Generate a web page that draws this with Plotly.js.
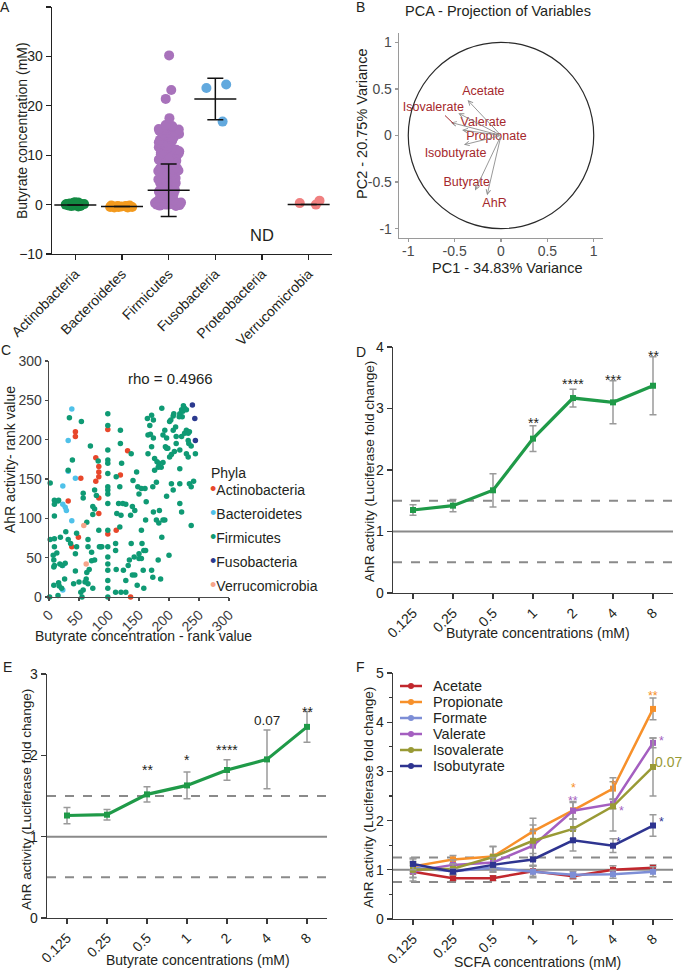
<!DOCTYPE html>
<html><head><meta charset="utf-8">
<script src="https://cdn.plot.ly/plotly-3.0.1.min.js"></script>
<style>html,body{margin:0;padding:0;background:#fff}</style>
</head><body><div id="chart" style="width:685px;height:973px"></div>
<script>
// ---------------- Panel A data ----------------
const phylaA = ['Actinobacteria','Bacteroidetes','Firmicutes','Fusobacteria','Proteobacteria','Verrucomicrobia'];
const butyrateActino = [0.1,-0.1,0.2,0.0,0.3,-0.2,0.1,0.0,-0.1,0.2,0.4,0.0,-0.3,0.1,0.2,-0.1,0.0,0.3,0.1,-0.2,0.0,0.2,0.1,-0.1,0.0,-0.4,0.5,-0.3];
const butyrateBactero = [-0.4,-0.5,-0.3,-0.4,-0.6,-0.5,-0.2,-0.4,-0.3,-0.5,-0.4,-0.35,-0.6,-0.2];
const butyrateFirmi = [30.2,23.2,21.4,17.5,
16.1,15.9,15.7,15.5,15.3,15.1,14.9,14.7,14.4,14.1,13.9,13.6,13.4,13.1,12.9,12.6,12.4,12.1,11.9,11.6,11.4,11.1,10.9,10.6,10.4,10.1,
9.9,9.6,9.4,9.1,8.9,8.6,8.4,8.1,7.9,7.6,7.4,7.1,6.9,6.6,6.4,6.1,5.9,5.6,5.4,5.1,4.9,4.6,4.4,4.1,3.9,3.6,3.4,3.1,2.9,2.6,2.4,2.1,1.9,1.6,1.4,1.1,0.9,0.6,0.4,0.1,
15.8,15.2,14.5,13.7,12.2,11.3,10.2,9.2,8.3,7.2,6.2,5.3,4.3,3.2,2.2,1.2,0.3,
14.3,12.7,10.8,8.8,6.8,4.8,2.8,0.8,
0.0,0.0,0.1,0.2,0.2,0.3,0.5,0.0,-0.1,-0.2,0.1,0.4,0.6,0.0,-0.3];
const butyrateFuso = [24.3,23.6,16.8];
const butyrateVerruco = [0.0,0.8,0.3];
const meanA = [-0.1,-0.4,2.9,21.4,null,0.0];
const sdA = [0,0,5.3,4.2,null,0];

// ---------------- Panel B data ----------------
const pcaVars = ['Acetate','Isovalerate','Valerate','Propionate','Isobutyrate','Butyrate','AhR'];
const pc1 = [-0.36,-0.54,-0.46,-0.42,-0.40,-0.28,-0.15];
const pc2 = [0.38,0.14,0.24,0.06,-0.10,-0.59,-0.64];
const labelPC1 = [-0.19,-0.73,-0.19,-0.05,-0.49,-0.37,-0.07];
const labelPC2 = [0.47,0.30,0.14,-0.02,-0.20,-0.51,-0.73];

// ---------------- Panel C data ----------------
const actinoRankX = [44,44,32,53,98,131,78,83,83,83,78,83,83,49,38,119,112,136,98];
const actinoRankY = [210,204,122,151,213,186,177,166,159,153,147,126,106,76,64,155,85,0,80];
const bacteroRankX = [38,32,32,44,23,23,27,29,38,23,23];
const bacteroRankY = [239,199,160,151,141,118,114,110,97,40,9];
const fusoRankX = [239,243,244];
const fusoRankY = [244,227,199];
const verrucoRankX = [58,62];
const verrucoRankY = [91,42];
const firmiRankX = [1,2,2,9,9,15,9,9,9,8,8,9,13,19,18,22,8,17,21,15,26,28,32,36,46,32,34,39,54,44,44,50,53,55,57,57,63,65,65,71,65,62,63,67,69,73,76,73,76,79,76,71,73,84,86,88,83,82,16,7,27,46,16,41,60,57,
98,98,98,98,98,98,98,98,98,98,98,98,98,98,98,98,98,98,
119,119,121,118,112,116,123,113,120,128,118,111,111,112,111,120,128,124,128,132,134,136,137,140,139,143,139,143,137,142,147,146,148,150,150,154,150,154,155,158,161,157,158,162,161,160,154,
164,171,174,168,165,169,165,171,174,176,176,180,183,187,190,182,179,173,174,179,184,188,183,190,193,182,173,171,186,188,193,190,196,194,196,198,201,203,207,208,207,211,212,212,201,204,209,196,207,204,200,218,221,223,226,224,229,222,217,221,226,229,232,234,232,233,218,229,232,218,221,218,218,234,237,241,237,244,237];
const firmiRankY = [0,73,145,123,118,122,103,74,64,47,38,40,56,76,42,40,15,14,11,2,23,83,73,68,81,161,228,174,223,55,33,19,6,0,132,126,95,73,64,57,17,23,31,35,192,105,112,115,136,129,47,46,11,64,64,64,85,173,123,53,43,64,18,17,19,9,
233,218,187,174,170,157,140,136,131,119,85,64,51,42,34,21,11,0,
212,195,170,140,153,119,119,106,104,118,89,68,59,35,6,6,6,34,21,40,47,104,182,148,115,110,28,28,68,51,15,159,140,131,55,49,49,85,68,59,59,34,11,121,98,138,138,
227,231,225,218,206,207,182,191,202,176,161,172,170,165,171,165,146,140,108,98,110,76,94,98,98,47,25,34,23,240,212,206,202,191,189,189,223,225,230,233,212,216,204,195,178,181,185,128,136,144,53,233,238,236,240,243,238,229,229,204,208,212,208,210,199,195,187,182,178,163,108,144,119,144,140,147,91,182,192];
const phylaC = ['Actinobacteria','Bacteroidetes','Firmicutes','Fusobacteria','Verrucomicrobia'];

// ---------------- Panel D / E data ----------------
const concLabels = ['0.125','0.25','0.5','1','2','4','8'];
const ahrD = [1.35,1.42,1.67,2.51,3.17,3.10,3.37];
const sdD = [0.085,0.10,0.27,0.21,0.145,0.35,0.47];
const sigD = ['','','','**','****','***','**'];
const sigDy = [null,null,null,2.82,3.44,3.52,3.91];
const ahrE = [1.26,1.27,1.52,1.63,1.82,1.95,2.35];
const sdE = [0.10,0.065,0.095,0.165,0.125,0.36,0.19];
const sigE = ['','','**','*','****','0.07','**'];
const sigEy = [null,null,1.86,1.98,2.10,2.43,2.57];
const refLinesDE = [0.5,1,1.5];

// ---------------- Panel F data ----------------
const scfaNames = ['Acetate','Propionate','Formate','Valerate','Isovalerate','Isobutyrate'];
const acetateF = [0.96,0.83,0.83,0.97,0.87,1.00,1.04];
const propionateF = [1.07,1.21,1.27,1.78,2.21,2.65,4.27];
const formateF = [1.04,0.97,1.04,0.96,0.90,0.91,0.96];
const valerateF = [0.97,1.10,1.15,1.49,2.20,2.34,3.58];
const isovalerateF = [1.00,1.02,1.26,1.59,1.83,2.29,3.09];
const isobutyrateF = [1.12,0.96,1.10,1.21,1.60,1.49,1.90];
const acetateSd = [0.12,0.05,0.05,0.10,0.05,0.08,0.06];
const propionateSd = [0.15,0.08,0.20,0.27,0.18,0.22,0.22];
const formateSd = [0.08,0.06,0.08,0.12,0.06,0.08,0.10];
const valerateSd = [0.20,0.10,0.15,0.30,0.17,0.10,0.10];
const isovalerateSd = [0.15,0.10,0.22,0.32,0.20,0.50,0.59];
const isobutyrateSd = [0.12,0.06,0.15,0.12,0.22,0.14,0.22];
const sigFText = ['**','*','0.07','*','*','*','*','*','**'];
const sigFSeries = ['Propionate','Valerate','Isovalerate','Isobutyrate','Isobutyrate','Valerate','Propionate','Propionate','Valerate'];
const sigFx = [6.0,6.2,6.5,6.2,5.13,5.2,5.0,4.0,4.0];
const sigFy = [4.59,3.68,3.20,2.03,1.63,2.26,2.78,2.72,2.45];
const refLinesF = [0.75,1,1.25];

// ---------------- styling ----------------
const FONT = 'Liberation Sans, Arial, Helvetica, sans-serif';
const TXT = '#231f20';
const W = 685, H = 973;
const px = v => v / W, py = v => 1 - v / H;
const colA = {Actinobacteria:'#138a43', Bacteroidetes:'#f39a1e', Firmicutes:'#a872bb', Fusobacteria:'#62a9de', Verrucomicrobia:'#f08080'};
const colC = {Actinobacteria:'#e8472b', Bacteroidetes:'#4fc1e9', Firmicutes:'#0f9a74', Fusobacteria:'#2b3a8f', Verrucomicrobia:'#f7a58a'};
const colF = {Acetate:'#c1272d', Propionate:'#f7902a', Formate:'#7d8ed6', Valerate:'#a45fc0', Isovalerate:'#999a35', Isobutyrate:'#2e3490'};
const green = '#1f9a48';

function axis(o){
  return Object.assign({showgrid:false, zeroline:false, showline:true, linecolor:'#3a3a3a', linewidth:1.3,
    ticks:'outside', ticklen:5, tickwidth:1.2, tickcolor:'#3a3a3a',
    tickfont:{family:FONT, size:14, color:TXT}, fixedrange:true, automargin:false}, o);
}

const traces = [];
// Panel A
const groupsA = [['Actinobacteria', butyrateActino],['Bacteroidetes', butyrateBactero],['Firmicutes', butyrateFirmi],['Fusobacteria', butyrateFuso],['Verrucomicrobia', butyrateVerruco]];
groupsA.forEach(([name, vals]) => traces.push({
  type:'box', x: vals.map(() => name), y: vals, xaxis:'x', yaxis:'y',
  boxpoints:'all', jitter:1, pointpos:0, width:0.6,
  fillcolor:'rgba(0,0,0,0)', line:{width:0, color:'rgba(0,0,0,0)'},
  marker:{color:colA[name], size:10}, showlegend:false, hoverinfo:'y'
}));
traces.push({type:'scatter', mode:'markers', x: phylaA, y: meanA, xaxis:'x', yaxis:'y',
  marker:{symbol:'line-ew', size:30, color:'#111', line:{width:1.5, color:'#111'}},
  error_y:{type:'data', array: sdA, visible:true, color:'#111', thickness:1.5, width:8},
  showlegend:false, cliponaxis:false});

// Panel B
traces.push({type:'scatter', mode:'text', x: labelPC1, y: labelPC2, text: pcaVars, xaxis:'x2', yaxis:'y2',
  textfont:{family:FONT, size:12.5, color:'#a5282c'}, showlegend:false, hoverinfo:'skip', cliponaxis:false});

// Panel C
const groupsC = [['Actinobacteria', actinoRankX, actinoRankY],['Bacteroidetes', bacteroRankX, bacteroRankY],['Firmicutes', firmiRankX, firmiRankY],['Fusobacteria', fusoRankX, fusoRankY],['Verrucomicrobia', verrucoRankX, verrucoRankY]];
groupsC.forEach(([name, xs, ys]) => traces.push({type:'scatter', mode:'markers', x: xs, y: ys, xaxis:'x3', yaxis:'y3',
  marker:{color:colC[name], size:5.5}, showlegend:false, cliponaxis:false, name}));

// Panel D & E
[['x4','y4',ahrD,sdD],['x5','y5',ahrE,sdE]].forEach(([xa,ya,vals,sds]) => traces.push({
  type:'scatter', mode:'lines+markers', x: concLabels, y: vals, xaxis:xa, yaxis:ya,
  line:{color:green, width:3.2}, marker:{color:green, size:6, symbol:'square'},
  error_y:{type:'data', array: sds, visible:true, color:'#9a9a9a', thickness:1.5, width:3.5},
  showlegend:false, cliponaxis:false}));

// Panel F
const seriesF = {Acetate:[acetateF,acetateSd], Propionate:[propionateF,propionateSd], Formate:[formateF,formateSd], Valerate:[valerateF,valerateSd], Isovalerate:[isovalerateF,isovalerateSd], Isobutyrate:[isobutyrateF,isobutyrateSd]};
scfaNames.forEach(n => traces.push({type:'scatter', mode:'lines+markers', name:n, x: concLabels, y: seriesF[n][0], xaxis:'x6', yaxis:'y6',
  line:{color:colF[n], width:2.5}, marker:{color:colF[n], size:6, symbol:'square'},
  error_y:{type:'data', array: seriesF[n][1], visible:true, color:'#9a9a9a', thickness:1.5, width:3.5},
  showlegend:false, cliponaxis:false}));

// ---------------- annotations ----------------
const ann = [];
const shapes = [];
function txt(text, x, y, o){ ann.push(Object.assign({xref:'paper', yref:'paper', x:px(x), y:py(y), text, showarrow:false,
  font:{family:FONT, size:14, color:TXT}, xanchor:'center', yanchor:'middle'}, o||{})); }
// panel letters
txt('A',5,7); txt('B',361,7); txt('C',6,350); txt('D',361,352); txt('E',8,667); txt('F',361,667);
// axis titles
txt('Butyrate concentration (mM)',22,131,{textangle:-90});
txt('PCA - Projection of Variables',498,11,{font:{family:FONT,size:14.5,color:TXT}});
txt('PC1 - 34.83% Variance',507,268,{font:{family:FONT,size:14.5,color:TXT}});
txt('PC2 - 20.75% Variance',362,124,{textangle:-90, font:{family:FONT,size:14.5,color:TXT}});
txt('AhR activity- rank value',10,460,{textangle:-90});
txt('Butyrate concentration - rank value',143,636);
txt('AhR activity (Luciferase fold change)',369,472,{textangle:-90, font:{family:FONT,size:13.6,color:TXT}});
txt('Butyrate concentrations (mM)',538,633);
txt('AhR activity (Luciferase fold change)',26,800,{textangle:-90, font:{family:FONT,size:13.6,color:TXT}});
txt('Butyrate concentrations (mM)',198,960);
txt('AhR activity (Luciferase fold change)',368,798,{textangle:-90, font:{family:FONT,size:13.6,color:TXT}});
txt('SCFA concentrations (mM)',537,962);
// Panel A: ND
ann.push({xref:'x', yref:'y', x:4, y:-6.2, text:'ND', showarrow:false, font:{family:FONT,size:16.5,color:TXT}});
// Panel B arrows
pcaVars.forEach((v,i) => ann.push({xref:'x2', yref:'y2', axref:'x2', ayref:'y2', x:pc1[i], y:pc2[i], ax:0, ay:0, text:'',
  showarrow:true, arrowhead:5, arrowsize:1, arrowwidth:0.9, arrowcolor:'#8c8c8c', standoff:0, startstandoff:0}));
ann.push({xref:'x2', yref:'y2', axref:'x2', ayref:'y2', x:-0.51, y:0.125, ax:-0.62, ay:0.23, text:'', showarrow:true, arrowhead:0, arrowwidth:1, arrowcolor:'#a5282c'});
// Panel C rho + legend
ann.push({xref:'x3', yref:'y3', x:202, y:278, text:'rho = 0.4966', showarrow:false, font:{family:FONT,size:15,color:TXT}});
txt('Phyla',209,473,{xanchor:'left'});
phylaC.forEach((p,i) => txt('<span style="color:'+colC[p]+';font-size:18px">•</span>'+p, 208, 489+i*24, {xanchor:'left'}));
// Panel F legend (line + dot + name)
scfaNames.forEach((n,i) => {
  const yy = 686 + i*16;
  shapes.push({type:'line', xref:'paper', yref:'paper', x0:px(400), x1:px(422), y0:py(yy), y1:py(yy), line:{color:colF[n], width:2.5}});
  shapes.push({type:'circle', xref:'paper', yref:'paper', x0:px(408), x1:px(414), y0:py(yy+3), y1:py(yy-3), fillcolor:colF[n], line:{width:0}});
  txt(n, 431, yy, {xanchor:'left', font:{family:FONT,size:14.5,color:TXT}});
});
// Panel D/E significance
sigD.forEach((s,i) => { if(s) ann.push({xref:'x4', yref:'y4', x:i, y:sigDy[i], text:s, showarrow:false, yshift:-3, font:{family:FONT,size:14,color:TXT}}); });
sigE.forEach((s,i) => { if(s) ann.push({xref:'x5', yref:'y5', x:i, y:sigEy[i], text:s, showarrow:false, yshift: s==='0.07'?0:-3, font:{family:FONT,size:s==='0.07'?13.5:14,color:TXT}}); });
// Panel F significance
sigFText.forEach((s,i) => ann.push({xref:'x6', yref:'y6', x:sigFx[i], y:sigFy[i], text:s, showarrow:false,
  xanchor: s==='0.07'?'right':'center', xshift: s==='0.07'?11:0, yshift: s==='0.07'?0:-3,
  font:{family:FONT, size: s==='0.07'?14:12.5, color:colF[sigFSeries[i]]}}));

// ---------------- shapes ----------------
shapes.push({type:'circle', xref:'x2', yref:'y2', x0:-1, y0:-1, x1:1, y1:1, line:{color:'#2a2a2a', width:1.2}});
[['x4','y4',refLinesDE],['x5','y5',refLinesDE],['x6','y6',refLinesF]].forEach(([xa,ya,levels]) => {
  levels.forEach((lv,k) => shapes.push({type:'line', xref:xa+' domain', yref:ya, x0:0, x1:1, y0:lv, y1:lv,
    line:{color:'#8a8a8a', width:2, dash: k===1 ? 'solid' : 'dash'}, layer:'below'}));
});

const layout = {
  width: W, height: H, margin:{l:0,r:0,t:0,b:0}, paper_bgcolor:'#fff', plot_bgcolor:'rgba(0,0,0,0)',
  font:{family:FONT, size:14, color:TXT}, boxmode:'overlay', hovermode:false, showlegend:false,
  xaxis: axis({anchor:'y', domain:[px(52),px(332)], type:'category', categoryorder:'array', categoryarray:phylaA, range:[-0.5,5.5], tickangle:-45, linecolor:'#222', tickcolor:'#222'}),
  yaxis: axis({anchor:'x', domain:[py(254),py(7)], range:[-10,40], dtick:10, linecolor:'#222', tickcolor:'#222'}),
  xaxis2: axis({anchor:'y2', domain:[px(399),px(603)], range:[-1.1,1.1], tickvals:[-1,-0.5,0,0.5,1], ticktext:['-1','-0.5','0','0.5','1'], linecolor:'#9a9a9a', tickcolor:'#9a9a9a', ticklen:3, ticklabelstandoff:-3, tickfont:{family:FONT,size:14,color:'#4a4a4a'}}),
  yaxis2: axis({anchor:'x2', domain:[py(238),py(33)], range:[-1.1,1.1], tickvals:[-1,-0.5,0,0.5,1], ticktext:['-1','-0.5','0','0.5','1'], linecolor:'#9a9a9a', tickcolor:'#9a9a9a', ticklen:3, tickfont:{family:FONT,size:14,color:'#4a4a4a'}}),
  xaxis3: axis({anchor:'y3', domain:[px(49),px(229)], range:[0,300], dtick:50, tickangle:-45, linecolor:'#4a4a4a', tickcolor:'#4a4a4a', ticklen:3, tickfont:{family:FONT,size:14,color:'#3a3a3a'}}),
  yaxis3: axis({anchor:'x3', domain:[py(597),py(361)], range:[0,300], dtick:50, linecolor:'#4a4a4a', tickcolor:'#4a4a4a', ticklen:3, tickfont:{family:FONT,size:14,color:'#3a3a3a'}}),
  xaxis4: axis({anchor:'y4', domain:[px(393),px(673)], type:'category', range:[-0.5,6.5], tickangle:-45}),
  yaxis4: axis({anchor:'x4', domain:[py(593),py(347)], range:[0,4], dtick:1}),
  xaxis5: axis({anchor:'y5', domain:[px(47),px(327)], type:'category', range:[-0.5,6.5], tickangle:-45}),
  yaxis5: axis({anchor:'x5', domain:[py(918),py(674)], range:[0,3], dtick:1}),
  xaxis6: axis({anchor:'y6', domain:[px(393),px(673)], type:'category', range:[-0.5,6.5], tickangle:-45}),
  yaxis6: axis({anchor:'x6', domain:[py(919),py(673)], range:[0,5], dtick:1, minor:{dtick:0.5, ticks:'outside', ticklen:3, tickcolor:'#3a3a3a'}}),
  annotations: ann, shapes: shapes
};

Plotly.newPlot('chart', traces, layout, {displayModeBar:false, staticPlot:true});
</script></body></html>
